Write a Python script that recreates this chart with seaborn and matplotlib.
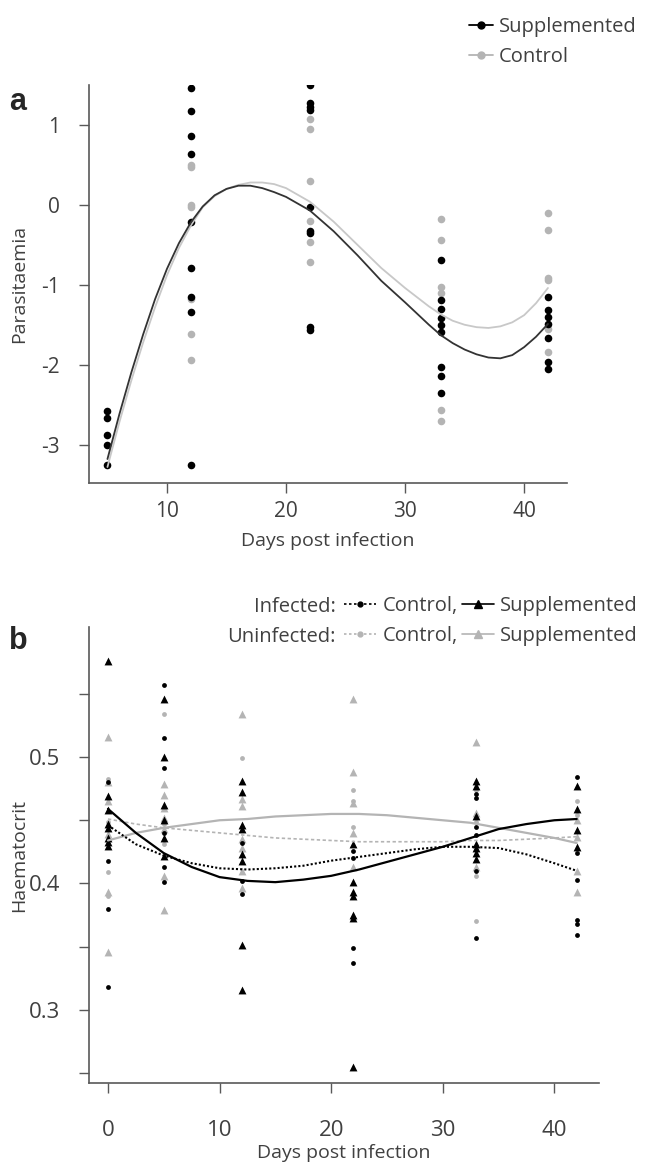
import numpy as np
import pandas as pd
import matplotlib
matplotlib.use("Agg")
import matplotlib.pyplot as plt
from matplotlib.lines import Line2D
import seaborn as sns

# ---- panel a: parasitaemia ----
a_days = [5, 12, 22, 33, 42]
a_supp = [
    [-2.58, -2.67, -2.88, -3.01, -3.26],
    [1.46, 1.18, 0.86, 0.64, -0.22, -0.79, -1.15, -1.34, -3.26],
    [1.50, 1.27, 1.23, 1.19, -0.03, -0.33, -0.35, -1.53, -1.57],
    [-0.69, -1.19, -1.30, -1.41, -1.50, -1.59, -2.03, -2.14, -2.36],
    [-1.15, -1.32, -1.40, -1.49, -1.66, -1.96, -2.05],
]
a_ctrl = [
    [],
    [0.50, 0.47, 0.0, -0.03, -1.18, -1.61, -1.94],
    [1.08, 0.95, 0.30, -0.20, -0.47, -0.71],
    [-0.18, -0.44, -1.03, -1.10, -2.57, -2.71],
    [-0.10, -0.31, -0.92, -0.94, -1.55, -1.84],
]
# fitted curves
a_fit_days = [5, 6, 7, 8, 9, 10, 11, 12, 13, 14, 15, 16, 17, 18, 19, 20, 22, 24, 26,
              28, 30, 32, 33, 34, 35, 36, 37, 38, 39, 40, 41, 42]
a_fit_supp = [-3.18, -2.62, -2.10, -1.62, -1.18, -0.80, -0.48, -0.22, -0.02, 0.12, 0.20,
              0.24, 0.24, 0.21, 0.16, 0.10, -0.07, -0.33, -0.63, -0.95, -1.22, -1.50,
              -1.63, -1.73, -1.81, -1.87, -1.91, -1.92, -1.88, -1.78, -1.65, -1.49]
a_fit_ctrl = [-3.28, -2.72, -2.20, -1.72, -1.28, -0.88, -0.54, -0.26, -0.03, 0.11, 0.20,
              0.25, 0.28, 0.28, 0.26, 0.21, 0.04, -0.21, -0.50, -0.79, -1.04, -1.27,
              -1.37, -1.45, -1.50, -1.53, -1.54, -1.52, -1.47, -1.38, -1.23, -1.04]

# ---- panel b: haematocrit ----
b_days = [0, 5, 12, 22, 33, 42]
inf_ctrl = [
    [0.480, 0.418, 0.380, 0.318],
    [0.557, 0.515, 0.491, 0.440, 0.413, 0.401],
    [0.432, 0.402, 0.392],
    [0.426, 0.420, 0.349, 0.337],
    [0.471, 0.468, 0.445, 0.438, 0.410, 0.357],
    [0.484, 0.424, 0.403, 0.371, 0.368, 0.359],
]
inf_supp = [
    [0.576, 0.469, 0.458, 0.447, 0.444, 0.436, 0.433, 0.430],
    [0.546, 0.500, 0.462, 0.450, 0.436, 0.422],
    [0.481, 0.472, 0.446, 0.443, 0.423, 0.418, 0.351, 0.316],
    [0.431, 0.401, 0.393, 0.390, 0.375, 0.373, 0.255],
    [0.481, 0.477, 0.453, 0.431, 0.428, 0.424, 0.419],
    [0.477, 0.459, 0.442, 0.429],
]
uninf_ctrl = [
    [0.483, 0.449, 0.409, 0.390],
    [0.534, 0.447, 0.431],
    [0.499],
    [0.474, 0.465, 0.445],
    [0.474, 0.449, 0.406, 0.370],
    [0.465, 0.454],
]
uninf_supp = [
    [0.516, 0.480, 0.465, 0.439, 0.393, 0.346],
    [0.479, 0.470, 0.460, 0.452, 0.443, 0.406, 0.379],
    [0.534, 0.467, 0.461, 0.435, 0.428, 0.410, 0.396],
    [0.546, 0.488, 0.464, 0.440, 0.413],
    [0.512, 0.456, 0.413],
    [0.450, 0.437, 0.410, 0.393],
]
b_fit_days = [0, 2.5, 5, 7.5, 10, 12.5, 15, 17.5, 20, 22.5, 25, 27.5, 30, 32.5, 35,
              37.5, 40, 42]
fit_inf_supp = [0.459, 0.440, 0.424, 0.413, 0.405, 0.402, 0.401, 0.403, 0.406, 0.411,
                0.417, 0.423, 0.429, 0.436, 0.443, 0.447, 0.450, 0.451]
fit_inf_ctrl = [0.446, 0.431, 0.422, 0.416, 0.412, 0.411, 0.412, 0.414, 0.418, 0.421,
                0.424, 0.427, 0.429, 0.429, 0.428, 0.423, 0.416, 0.410]
fit_uninf_ctrl = [0.451, 0.447, 0.444, 0.442, 0.440, 0.438, 0.436, 0.435, 0.434, 0.433,
                  0.433, 0.433, 0.433, 0.434, 0.434, 0.435, 0.436, 0.437]
fit_uninf_supp = [0.434, 0.440, 0.444, 0.447, 0.450, 0.451, 0.453, 0.454, 0.455, 0.455,
                  0.454, 0.452, 0.450, 0.448, 0.444, 0.440, 0.436, 0.432]


def long_df(days, groups):
    rows = []
    for d, vals in zip(days, groups):
        for v in vals:
            rows.append((d, v))
    return pd.DataFrame(rows, columns=["day", "value"])


sns.set_theme(style="ticks")
plt.rcParams["font.family"] = ["Open Sans", "DejaVu Sans"]
plt.rcParams["axes.unicode_minus"] = False

BLACK = "#000000"
GREY = "#b4b4b4"
SPINE = "#595959"
TXT = "#404040"
LAB = 14
LEG = 14.5

fig = plt.figure(figsize=(6.46, 11.67), dpi=100)
ax1 = fig.add_axes([89 / 646, 1 - 483 / 1167, 478 / 646, 398 / 1167])
ax2 = fig.add_axes([89 / 646, 1 - 1083 / 1167, 510 / 646, 456 / 1167])

# panel a
sns.lineplot(x=a_fit_days, y=a_fit_ctrl, color="#c8c8c8", lw=1.3, ax=ax1)
sns.lineplot(x=a_fit_days, y=a_fit_supp, color="#333333", lw=1.3, ax=ax1)
sns.scatterplot(data=long_df(a_days, a_ctrl), x="day", y="value", color=GREY,
                s=30, linewidth=0, ax=ax1)
sns.scatterplot(data=long_df(a_days, a_supp), x="day", y="value", color=BLACK,
                s=30, linewidth=0, ax=ax1)
ax1.set_xlim(3.45, 43.6)
ax1.set_ylim(-3.48, 1.5)
ax1.set_xticks([10, 20, 30, 40])
ax1.set_yticks([-3, -2, -1, 0, 1])
ax1.set_xlabel("Days post infection", fontsize=LAB, color=TXT, labelpad=7)
ax1.set_ylabel("Parasitaemia", fontsize=LAB, color=TXT)
ax1.yaxis.set_label_coords(-61 / 478, 0.5)
ax1.tick_params(axis="x", length=7, width=1, color=SPINE, labelsize=15, labelcolor=TXT, pad=6)
ax1.tick_params(axis="y", length=7, width=1, color=SPINE, labelsize=15, labelcolor=TXT, pad=14)

# panel b
sns.scatterplot(data=long_df(b_days, uninf_ctrl), x="day", y="value", color=GREY,
                marker="o", s=12, linewidth=0, ax=ax2)
sns.scatterplot(data=long_df(b_days, uninf_supp), x="day", y="value", color=GREY,
                marker="^", s=32, linewidth=0, ax=ax2)
sns.scatterplot(data=long_df(b_days, inf_ctrl), x="day", y="value", color=BLACK,
                marker="o", s=12, linewidth=0, ax=ax2)
sns.scatterplot(data=long_df(b_days, inf_supp), x="day", y="value", color=BLACK,
                marker="^", s=32, linewidth=0, ax=ax2)
sns.lineplot(x=b_fit_days, y=fit_uninf_supp, color=GREY, lw=1.6, ax=ax2)
sns.lineplot(x=b_fit_days, y=fit_uninf_ctrl, color=GREY, lw=1.2, ls=(0, (2, 1.5)), ax=ax2)
sns.lineplot(x=b_fit_days, y=fit_inf_ctrl, color=BLACK, lw=1.5, ls=(0, (1, 1)), ax=ax2)
sns.lineplot(x=b_fit_days, y=fit_inf_supp, color=BLACK, lw=1.6, ax=ax2)
ax2.set_xlim(-1.7, 44.0)
ax2.set_ylim(0.242, 0.603)
ax2.set_xticks([0, 10, 20, 30, 40])
ax2.set_yticks([0.25, 0.3, 0.35, 0.4, 0.45, 0.5, 0.55])
ax2.set_yticklabels(["", "0.3", "", "0.4", "", "0.5", ""])
ax2.set_xlabel("Days post infection", fontsize=LAB, color=TXT, labelpad=2)
ax2.set_ylabel("Haematocrit", fontsize=LAB, color=TXT)
ax2.yaxis.set_label_coords(-61 / 510, 0.5)
ax2.tick_params(axis="x", length=7, width=1, color=SPINE, labelsize=16, labelcolor=TXT, pad=20)
ax2.tick_params(axis="y", length=7, width=1, color=SPINE, labelsize=16, labelcolor=TXT, pad=14)

for ax in (ax1, ax2):
    sns.despine(ax=ax)
    for sp in ("left", "bottom"):
        ax.spines[sp].set_color(SPINE)
        ax.spines[sp].set_linewidth(1.2)

# panel letters
fig.text(9 / 646, 1 - 102 / 1167, "a", fontsize=22, fontweight="bold",
         family="Liberation Sans", va="center")
fig.text(9 / 646, 1 - 641 / 1167, "b", fontsize=22, fontweight="bold",
         family="Liberation Sans", va="center")

# legend a
hA = [Line2D([], [], color=BLACK, marker="o", ms=5, lw=1.3),
      Line2D([], [], color=GREY, marker="o", ms=5, lw=1.3)]
fig.legend(hA, ["Supplemented", "Control"], loc="upper left",
           bbox_to_anchor=(469 / 646, 1 - 17 / 1167), frameon=False, fontsize=LEG,
           handlelength=1.2, handletextpad=0.3, labelspacing=0.5, labelcolor=TXT,
           borderpad=0, borderaxespad=0)

# legend b
hB = [Line2D([], [], color=BLACK, marker="o", ms=3.5, lw=1.2, ls=(0, (1.5, 1.5))),
      Line2D([], [], color=GREY, marker="o", ms=3.5, lw=1.2, ls=(0, (1.5, 1.5))),
      Line2D([], [], color=BLACK, marker="^", ms=6, lw=1.2),
      Line2D([], [], color=GREY, marker="^", ms=6, lw=1.2)]
fig.legend(hB, ["Control,", "Control,", "Supplemented", "Supplemented"], ncol=2,
           loc="upper left", bbox_to_anchor=(344 / 646, 1 - 596 / 1167), frameon=False,
           fontsize=LEG, handlelength=1.6, handletextpad=0.3, columnspacing=0.2,
           labelspacing=0.5, labelcolor=TXT, borderpad=0, borderaxespad=0)
fig.text(336 / 646, 1 - 607 / 1167, "Infected:", fontsize=LEG, color=TXT,
         ha="right", va="center")
fig.text(336 / 646, 1 - 637 / 1167, "Uninfected:", fontsize=LEG, color=TXT,
         ha="right", va="center")

fig.savefig("out.png", dpi=100)
